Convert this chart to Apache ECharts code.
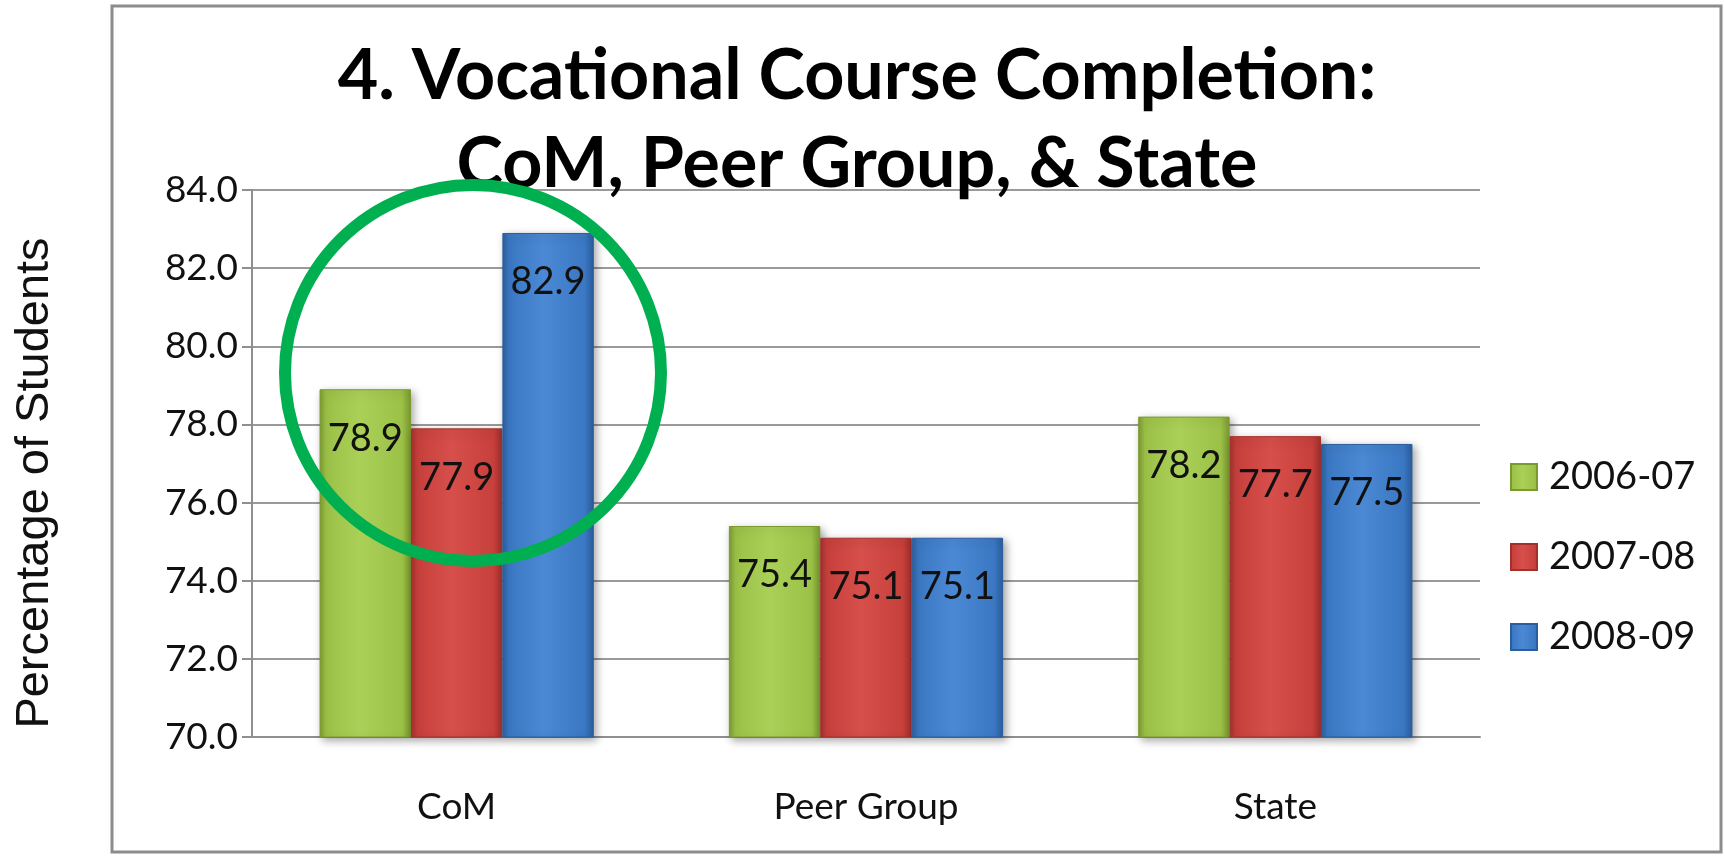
<!DOCTYPE html>
<html>
<head>
<meta charset="utf-8">
<script src="https://cdn.jsdelivr.net/npm/echarts@6/dist/echarts.min.js"></script>
<style>
  html, body { margin: 0; padding: 0; background: #fff; }
  #chart { width: 1725px; height: 859px; }
</style>
</head>
<body>
<div id="chart"></div>
<script>
const categories = ['CoM', 'Peer Group', 'State'];
const years = ['2006-07', '2007-08', '2008-09'];
const values0607 = [78.9, 75.4, 78.2];
const values0708 = [77.9, 75.1, 77.7];
const values0809 = [82.9, 75.1, 77.5];
const yMin = 70, yMax = 84, yStep = 2;

const font = 'Lato, "Open Sans", sans-serif';
const palette = [
  { dark: '#7a9a30', base: '#9cc147', light: '#abd058' },
  { dark: '#a3302d', base: '#c7403c', light: '#d64f4a' },
  { dark: '#2b5d9c', base: '#3b78c3', light: '#4b89d4' }
];

function barFill(p) {
  return new echarts.graphic.LinearGradient(0, 0, 1, 0, [
    { offset: 0, color: p.dark },
    { offset: 0.07, color: p.base },
    { offset: 0.45, color: p.light },
    { offset: 0.9, color: p.base },
    { offset: 1, color: p.dark }
  ]);
}

function makeSeries(name, data, p) {
  return {
    name: name,
    type: 'bar',
    data: data,
    barGap: '0%',
    barCategoryGap: '33%',
    itemStyle: {
      color: barFill(p),
      borderColor: p.dark,
      borderWidth: 1,
      shadowColor: 'rgba(0,0,0,0.35)',
      shadowBlur: 8,
      shadowOffsetX: 3,
      shadowOffsetY: 3
    },
    label: {
      show: true,
      position: 'insideTop',
      distance: 30,
      color: '#111',
      fontFamily: font,
      fontSize: 38,
      formatter: (d) => d.value.toFixed(1)
    }
  };
}

const chart = echarts.init(document.getElementById('chart'));
chart.setOption({
  animation: false,
  backgroundColor: '#fff',
  color: palette.map(p => p.base),
  title: {
    text: '4. Vocational Course Completion:\nCoM, Peer Group, & State',
    left: 852,
    top: 27,
    textAlign: 'center',
    textStyle: {
      fontFamily: font,
      fontWeight: 'bold',
      fontSize: 70,
      lineHeight: 88,
      color: '#000'
    }
  },
  legend: {
    orient: 'vertical',
    left: 1505,
    top: 452,
    itemWidth: 26,
    itemHeight: 26,
    itemGap: 40,
    icon: 'rect',
    textStyle: {
      fontFamily: font,
      fontSize: 38,
      lineHeight: 40,
      color: '#111',
      padding: [0, 0, 0, 7]
    },
    data: years
  },
  grid: { left: 252, top: 190, right: 245, bottom: 122, containLabel: false },
  xAxis: {
    type: 'category',
    data: categories,
    axisLine: { lineStyle: { color: '#8f8f8f', width: 2 } },
    axisTick: { length: 15, lineStyle: { color: '#8f8f8f', width: 2 } },
    axisLabel: { margin: 52, fontFamily: font, fontSize: 37, color: '#111' }
  },
  yAxis: {
    type: 'value',
    min: yMin,
    max: yMax,
    interval: yStep,
    axisLine: { show: true, lineStyle: { color: '#8f8f8f', width: 2 } },
    axisTick: { show: true, length: 10, lineStyle: { color: '#8f8f8f', width: 2 } },
    splitLine: { lineStyle: { color: '#9a9a9a', width: 2 } },
    axisLabel: {
      margin: 14,
      fontFamily: font,
      fontSize: 37,
      color: '#111',
      formatter: (v) => v.toFixed(1)
    }
  },
  graphic: [
    {
      type: 'rect',
      shape: { x: 112, y: 6, width: 1609, height: 846 },
      style: { fill: 'none', stroke: '#8c8c8c', lineWidth: 3 },
      silent: true
    },
    {
      type: 'text',
      x: 35,
      y: 483,
      rotation: Math.PI / 2,
      style: {
        text: 'Percentage of Students',
        fontFamily: '"Liberation Sans", Arial, sans-serif',
        fontSize: 47,
        fill: '#111',
        align: 'center',
        verticalAlign: 'middle'
      },
      silent: true
    },
    {
      type: 'circle',
      shape: { cx: 473, cy: 373, r: 188 },
      style: { fill: 'none', stroke: '#00b050', lineWidth: 12 },
      z: 100,
      silent: true
    }
  ],
  series: [
    makeSeries(years[0], values0607, palette[0]),
    makeSeries(years[1], values0708, palette[1]),
    makeSeries(years[2], values0809, palette[2])
  ]
});
</script>
</body>
</html>
